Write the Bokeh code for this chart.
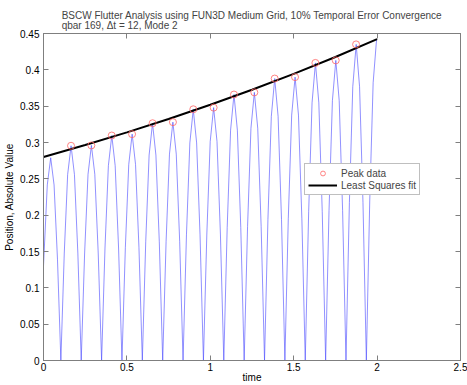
from bokeh.plotting import figure
from bokeh.models import Range1d, LinearAxis, Title, Legend, LegendItem, FixedTicker
from bokeh.embed import file_html
from bokeh.resources import INLINE

# Blue oscillation trace (absolute value)
signal_t = [0.0000, 0.0227, 0.0431, 0.0634, 0.0838, 0.1041,
            0.1245, 0.1448, 0.1652, 0.1855, 0.2059, 0.2262,
            0.2466, 0.2669, 0.2873, 0.3076, 0.3280, 0.3483,
            0.3687, 0.3890, 0.4094, 0.4297, 0.4501, 0.4704,
            0.4908, 0.5111, 0.5315, 0.5518, 0.5722, 0.5925,
            0.6129, 0.6332, 0.6536, 0.6739, 0.6943, 0.7146,
            0.7350, 0.7553, 0.7757, 0.7960, 0.8164, 0.8367,
            0.8571, 0.8774, 0.8978, 0.9181, 0.9385, 0.9588,
            0.9792, 0.9995, 1.0199, 1.0402, 1.0606, 1.0809,
            1.1013, 1.1216, 1.1420, 1.1623, 1.1827, 1.2030,
            1.2234, 1.2437, 1.2641, 1.2844, 1.3048, 1.3251,
            1.3455, 1.3658, 1.3862, 1.4065, 1.4269, 1.4472,
            1.4676, 1.4879, 1.5083, 1.5286, 1.5490, 1.5693,
            1.5897, 1.6100, 1.6304, 1.6507, 1.6711, 1.6914,
            1.7118, 1.7321, 1.7525, 1.7728, 1.7932, 1.8135,
            1.8339, 1.8542, 1.8746, 1.8949, 1.9153, 1.9356,
            1.9560, 1.9763, 1.9967, 2.0000]
signal_y = [0.130, 0.2416, 0.279, 0.2416, 0.1395, 0.0,
            0.1478, 0.2559, 0.2955, 0.2559, 0.1478, 0.0,
            0.148, 0.2563, 0.296, 0.2563, 0.148, 0.0,
            0.1548, 0.2681, 0.3096, 0.2681, 0.1548, 0.0,
            0.1558, 0.2698, 0.3115, 0.2698, 0.1558, 0.0,
            0.1633, 0.2827, 0.3265, 0.2827, 0.1633, 0.0,
            0.164, 0.2840, 0.328, 0.2840, 0.164, 0.0,
            0.1729, 0.2994, 0.3457, 0.2994, 0.1729, 0.0,
            0.174, 0.3014, 0.348, 0.3014, 0.174, 0.0,
            0.183, 0.3170, 0.366, 0.3170, 0.183, 0.0,
            0.1845, 0.3196, 0.369, 0.3196, 0.1845, 0.0,
            0.194, 0.3360, 0.388, 0.3360, 0.194, 0.0,
            0.195, 0.3377, 0.390, 0.3377, 0.195, 0.0,
            0.2048, 0.3546, 0.4095, 0.3546, 0.2048, 0.0,
            0.2065, 0.3577, 0.413, 0.3577, 0.2065, 0.0,
            0.2175, 0.3767, 0.435, 0.3767, 0.2175, 0.0,
            0.2208, 0.3823, 0.4415, 0.4415]

# Peak data (red circles)
peak_t = [0.165, 0.287, 0.409, 0.531, 0.654, 0.776, 0.898, 1.020,
          1.142, 1.264, 1.386, 1.508, 1.630, 1.752, 1.874]
peak_y = [0.2955, 0.296, 0.3096, 0.3115, 0.3265, 0.328, 0.3457, 0.348,
          0.366, 0.369, 0.388, 0.390, 0.4095, 0.413, 0.435]

# Least squares fit (black line)
fit_t = [0.0, 0.25, 0.5, 0.75, 1.0, 1.25, 1.5, 1.75, 2.0]
fit_y = [0.280, 0.2965, 0.3139, 0.3324, 0.3519, 0.3726, 0.3945, 0.4177, 0.4423]

x_ticks = [0, 0.5, 1, 1.5, 2, 2.5]
x_labels = ["0", "0.5", "1", "1.5", "2", "2.5"]
y_ticks = [0, 0.05, 0.1, 0.15, 0.2, 0.25, 0.3, 0.35, 0.4, 0.45]
y_labels = ["0", "0.05", "0.1", "0.15", "0.2", "0.25", "0.3", "0.35", "0.4", "0.45"]

FONT = "Liberation Sans"
AX = "#7f7f7f"

p = figure(width=467, height=385, output_backend="svg", toolbar_location=None,
           x_range=Range1d(0, 2.5), y_range=Range1d(0, 0.45), title=None,
           min_border_left=43, min_border_right=7, min_border_top=33, min_border_bottom=23,
           x_axis_label="time", y_axis_label="Position, Absolute Value")
p.background_fill_color = "white"
p.border_fill_color = "white"
p.grid.visible = False
p.outline_line_color = AX

def style_axis(ax, ticks, labels):
    ax.ticker = FixedTicker(ticks=ticks)
    ax.major_label_overrides = {t: l for t, l in zip(ticks, labels)}
    ax.major_tick_in = 5
    ax.major_tick_out = 0
    ax.minor_tick_line_color = None
    ax.axis_line_color = AX
    ax.major_tick_line_color = AX
    ax.major_label_text_font = FONT
    ax.major_label_text_font_size = "10px"
    ax.major_label_text_color = "black"
    ax.axis_label_text_font = FONT
    ax.axis_label_text_font_size = "10px"
    ax.axis_label_text_font_style = "normal"
    ax.axis_label_text_color = "black"

style_axis(p.xaxis[0], x_ticks, x_labels)
style_axis(p.yaxis[0], y_ticks, y_labels)
p.xaxis[0].major_label_standoff = 2
p.xaxis[0].axis_label_standoff = -2
p.yaxis[0].major_label_standoff = 4
p.yaxis[0].axis_label_standoff = 2

top = LinearAxis(ticker=FixedTicker(ticks=x_ticks), major_label_text_color=None,
                 major_label_text_font_size="1px", major_label_standoff=0,
                 major_tick_in=5, major_tick_out=0, minor_tick_line_color=None,
                 axis_line_color=AX, major_tick_line_color=AX)
p.add_layout(top, "above")
right = LinearAxis(ticker=FixedTicker(ticks=y_ticks), major_label_text_color=None,
                   major_label_text_font_size="1px", major_label_standoff=0,
                   major_tick_in=5, major_tick_out=0, minor_tick_line_color=None,
                   axis_line_color=AX, major_tick_line_color=AX)
p.add_layout(right, "right")

p.add_layout(Title(text="BSCW Flutter Analysis using FUN3D Medium Grid, 10% Temporal Error Convergence\nqbar 169, \u0394t = 12, Mode 2",
                   align="center", text_font=FONT, text_font_size="10px",
                   text_font_style="normal", text_line_height=0.9, standoff=5), "above")

p.line(signal_t, signal_y, line_color="#4646ff", line_width=0.6)
r_fit = p.line(fit_t, fit_y, line_color="black", line_width=2)
r_peak = p.scatter(peak_t, peak_y, marker="circle", size=7, fill_color=None,
                   line_color="#ff6464", line_width=0.8)

legend = Legend(items=[LegendItem(label="Peak data", renderers=[r_peak]),
                       LegendItem(label="Least Squares fit", renderers=[r_fit])],
                location=(261, 165), padding=3, spacing=0, margin=0,
                glyph_width=29, glyph_height=12, label_height=12, label_standoff=4,
                label_text_font=FONT, label_text_font_size="10px",
                border_line_color=AX, border_line_width=1,
                background_fill_color="white", background_fill_alpha=1)
p.add_layout(legend)

open("out.html", "w").write(file_html(p, INLINE))
